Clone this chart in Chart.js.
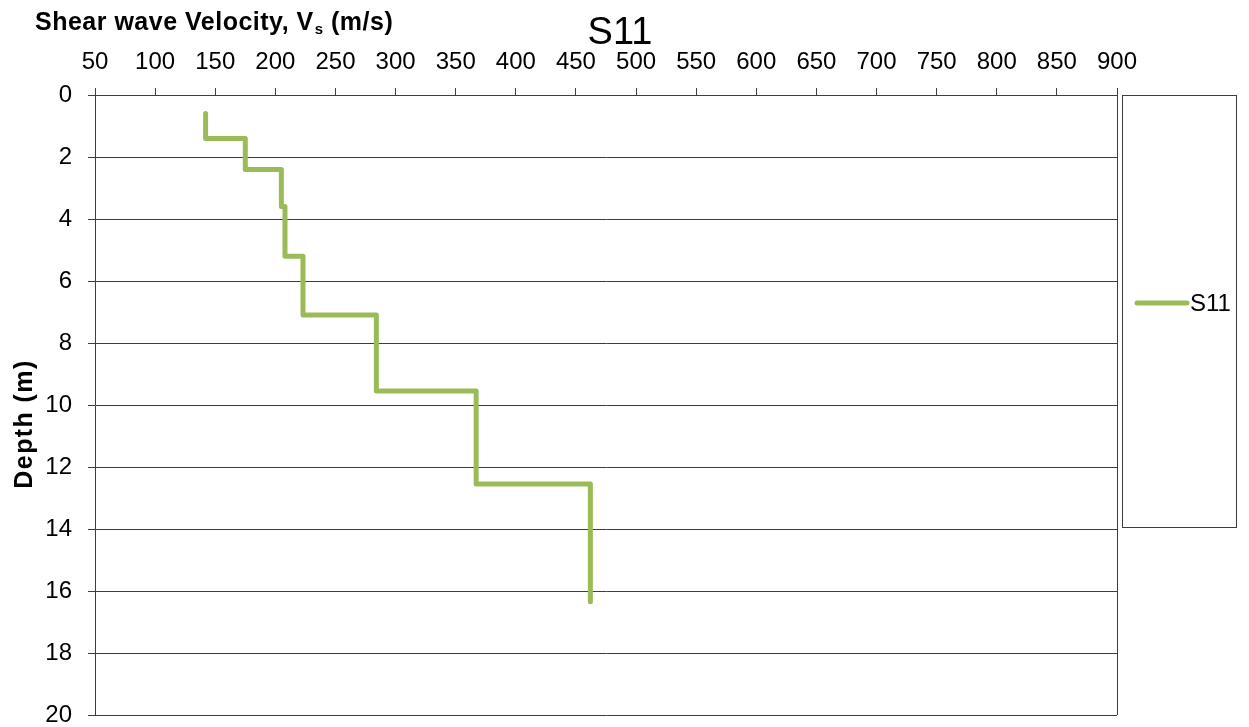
<!DOCTYPE html>
<html>
<head>
<meta charset="utf-8">
<title>S11</title>
<script src="https://cdn.jsdelivr.net/npm/chart.js@4.4.1/dist/chart.umd.min.js"></script>
<style>
    html, body { margin: 0; padding: 0; background: #fff; }
    #wrap { width: 1249px; height: 727px; position: relative; }
</style>
</head>
<body>
<div id="wrap"><canvas id="vsChart"></canvas></div>
<script>
// Shear wave velocity profile (step plot), depth in m, Vs in m/s
const seriesName = 'S11';
const velocity = [142, 142, 175, 175, 205, 205, 208, 208, 223, 223, 284, 284, 367, 367, 462, 462];
const depth = [0.6, 1.4, 1.4, 2.4, 2.4, 3.6, 3.6, 5.2, 5.2, 7.1, 7.1, 9.55, 9.55, 12.55, 12.55, 16.35];

const vsMin = 50, vsMax = 900, vsStep = 50;
const depthMin = 0, depthMax = 20, depthStep = 2;

const lineColor = '#9bbb59';
const axisColor = '#3c3c3c';
const fontFamily = '"Liberation Sans", Arial, sans-serif';

const points = velocity.map((v, i) => ({ x: v, y: depth[i] }));

// titles, plot border and the boxed legend on the right
const decorations = {
    id: 'decorations',
    afterDraw(chart) {
        const ctx = chart.ctx;
        const area = chart.chartArea;
        ctx.save();

        // right edge of the plot area
        ctx.strokeStyle = axisColor;
        ctx.lineWidth = 1;
        ctx.beginPath();
        ctx.moveTo(area.right + 0.5, area.top);
        ctx.lineTo(area.right + 0.5, area.bottom);
        ctx.stroke();

        // chart title
        ctx.fillStyle = '#000';
        ctx.font = '38px ' + fontFamily;
        ctx.textAlign = 'center';
        ctx.textBaseline = 'alphabetic';
        ctx.fillText(seriesName, 620, 44);

        // x axis title with subscript s
        ctx.textAlign = 'left';
        ctx.letterSpacing = '0.5px';
        ctx.font = 'bold 25px ' + fontFamily;
        let x = 35;
        const base = 30;
        const part1 = 'Shear wave Velocity, V';
        ctx.fillText(part1, x, base);
        x += ctx.measureText(part1).width;
        ctx.font = 'bold 15px ' + fontFamily;
        ctx.fillText('s', x + 1, base + 4);
        x += ctx.measureText('s').width + 1;
        ctx.font = 'bold 25px ' + fontFamily;
        ctx.fillText(' (m/s)', x, base);

        // y axis title
        ctx.save();
        ctx.letterSpacing = '1.4px';
        ctx.translate(32, 424);
        ctx.rotate(-Math.PI / 2);
        ctx.textAlign = 'center';
        ctx.fillText('Depth (m)', 0, 0);
        ctx.restore();
        ctx.letterSpacing = '0px';

        // legend box
        ctx.strokeStyle = axisColor;
        ctx.lineWidth = 1;
        ctx.strokeRect(1122.5, 95.5, 114, 432);
        const ds = chart.data.datasets[0];
        ctx.strokeStyle = ds.borderColor;
        ctx.lineWidth = 5;
        ctx.lineCap = 'round';
        ctx.beginPath();
        ctx.moveTo(1137, 303);
        ctx.lineTo(1187, 303);
        ctx.stroke();
        ctx.fillStyle = '#000';
        ctx.font = '24px ' + fontFamily;
        ctx.textAlign = 'left';
        ctx.textBaseline = 'middle';
        ctx.fillText(ds.label, 1190, 304);

        ctx.restore();
    }
};

new Chart(document.getElementById('vsChart'), {
    type: 'scatter',
    data: {
        datasets: [{
            label: seriesName,
            data: points,
            showLine: true,
            borderColor: lineColor,
            backgroundColor: lineColor,
            borderWidth: 5,
            borderJoinStyle: 'round',
            borderCapStyle: 'round',
            pointRadius: 0,
            pointHoverRadius: 0,
            tension: 0
        }]
    },
    options: {
        responsive: true,
        maintainAspectRatio: false,
        animation: false,
        layout: {
            padding: { left: 0, right: 132, top: 0, bottom: 12 }
        },
        plugins: {
            legend: { display: false },
            title: { display: false },
            tooltip: { enabled: false }
        },
        scales: {
            x: {
                type: 'linear',
                position: 'top',
                min: vsMin,
                max: vsMax,
                ticks: {
                    stepSize: vsStep,
                    color: '#000',
                    padding: 11,
                    maxRotation: 0,
                    autoSkip: false,
                    font: { family: fontFamily, size: 24 }
                },
                grid: {
                    drawOnChartArea: false,
                    drawTicks: true,
                    tickLength: 7,
                    color: axisColor
                },
                border: { color: axisColor, width: 1 },
                afterFit(scale) {
                    scale.height = 95;
                    scale.paddingLeft = 0;
                    scale.paddingRight = 0;
                }
            },
            y: {
                type: 'linear',
                reverse: true,
                min: depthMin,
                max: depthMax,
                ticks: {
                    stepSize: depthStep,
                    color: '#000',
                    padding: 16,
                    font: { family: fontFamily, size: 24 }
                },
                grid: {
                    tickLength: 7,
                    color: axisColor,
                    lineWidth: 1
                },
                border: { color: axisColor, width: 1 },
                afterFit(scale) {
                    scale.width = 95;
                    scale.paddingTop = 0;
                    scale.paddingBottom = 0;
                }
            }
        }
    },
    plugins: [decorations]
});
</script>
</body>
</html>
